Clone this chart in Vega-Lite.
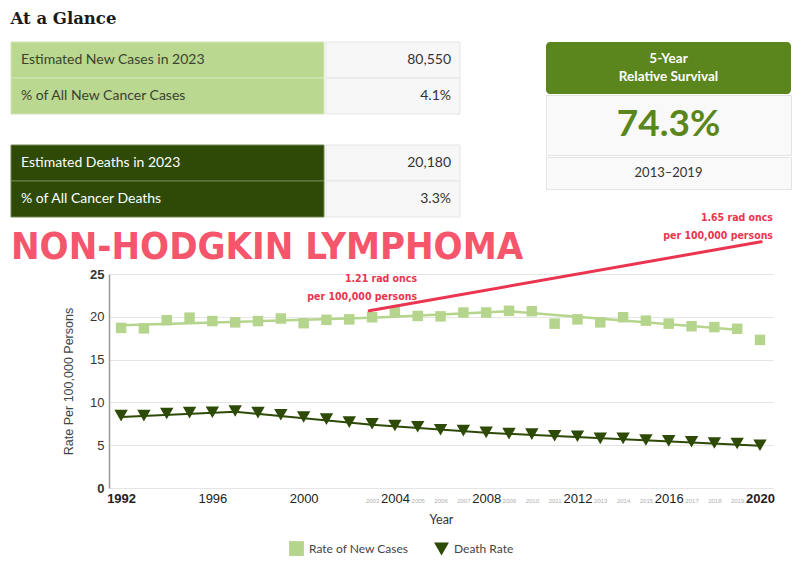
{
  "$schema": "https://vega.github.io/schema/vega-lite/v6.json",
  "background": "white",
  "padding": {"left": 10, "right": 10, "top": 11, "bottom": 4},
  "title": {"text": "At a Glance", "anchor": "start", "font": "DejaVu Serif", "fontSize": 16.5, "fontWeight": "bold", "color": "#1a1a1a", "offset": 14},
  "config": {"view": {"stroke": null}, "font": "Lato", "legend": {"layout": {"anchor": "middle"}}},
  "datasets": {
    "glance": [
      {"grp": "new", "label": "Estimated New Cases in 2023", "value": "80,550"},
      {"grp": "new", "label": "% of All New Cancer Cases", "value": "4.1%"},
      {"grp": "death", "label": "Estimated Deaths in 2023", "value": "20,180"},
      {"grp": "death", "label": "% of All Cancer Deaths", "value": "3.3%"}
    ],
    "survival": [{"header": "5-Year\nRelative Survival", "value": "74.3%", "period": "2013–2019"}],
    "rates": [
      {"year": 1992, "series": "Rate of New Cases", "rate": 18.7},
      {"year": 1993, "series": "Rate of New Cases", "rate": 18.65},
      {"year": 1994, "series": "Rate of New Cases", "rate": 19.6},
      {"year": 1995, "series": "Rate of New Cases", "rate": 19.9},
      {"year": 1996, "series": "Rate of New Cases", "rate": 19.5},
      {"year": 1997, "series": "Rate of New Cases", "rate": 19.35},
      {"year": 1998, "series": "Rate of New Cases", "rate": 19.5},
      {"year": 1999, "series": "Rate of New Cases", "rate": 19.8},
      {"year": 2000, "series": "Rate of New Cases", "rate": 19.25},
      {"year": 2001, "series": "Rate of New Cases", "rate": 19.65},
      {"year": 2002, "series": "Rate of New Cases", "rate": 19.7},
      {"year": 2003, "series": "Rate of New Cases", "rate": 19.95},
      {"year": 2004, "series": "Rate of New Cases", "rate": 20.6},
      {"year": 2005, "series": "Rate of New Cases", "rate": 20.1},
      {"year": 2006, "series": "Rate of New Cases", "rate": 20.05},
      {"year": 2007, "series": "Rate of New Cases", "rate": 20.5},
      {"year": 2008, "series": "Rate of New Cases", "rate": 20.5},
      {"year": 2009, "series": "Rate of New Cases", "rate": 20.7},
      {"year": 2010, "series": "Rate of New Cases", "rate": 20.65},
      {"year": 2011, "series": "Rate of New Cases", "rate": 19.2},
      {"year": 2012, "series": "Rate of New Cases", "rate": 19.7},
      {"year": 2013, "series": "Rate of New Cases", "rate": 19.35},
      {"year": 2014, "series": "Rate of New Cases", "rate": 19.95},
      {"year": 2015, "series": "Rate of New Cases", "rate": 19.55},
      {"year": 2016, "series": "Rate of New Cases", "rate": 19.2},
      {"year": 2017, "series": "Rate of New Cases", "rate": 18.9},
      {"year": 2018, "series": "Rate of New Cases", "rate": 18.8},
      {"year": 2019, "series": "Rate of New Cases", "rate": 18.6},
      {"year": 2020, "series": "Rate of New Cases", "rate": 17.3},
      {"year": 1992, "series": "Death Rate", "rate": 8.45},
      {"year": 1993, "series": "Death Rate", "rate": 8.45},
      {"year": 1994, "series": "Death Rate", "rate": 8.7},
      {"year": 1995, "series": "Death Rate", "rate": 8.8},
      {"year": 1996, "series": "Death Rate", "rate": 8.85},
      {"year": 1997, "series": "Death Rate", "rate": 9.0},
      {"year": 1998, "series": "Death Rate", "rate": 8.8},
      {"year": 1999, "series": "Death Rate", "rate": 8.55},
      {"year": 2000, "series": "Death Rate", "rate": 8.3},
      {"year": 2001, "series": "Death Rate", "rate": 8.05},
      {"year": 2002, "series": "Death Rate", "rate": 7.7},
      {"year": 2003, "series": "Death Rate", "rate": 7.5},
      {"year": 2004, "series": "Death Rate", "rate": 7.3},
      {"year": 2005, "series": "Death Rate", "rate": 7.15},
      {"year": 2006, "series": "Death Rate", "rate": 6.8},
      {"year": 2007, "series": "Death Rate", "rate": 6.7},
      {"year": 2008, "series": "Death Rate", "rate": 6.5},
      {"year": 2009, "series": "Death Rate", "rate": 6.35},
      {"year": 2010, "series": "Death Rate", "rate": 6.3},
      {"year": 2011, "series": "Death Rate", "rate": 6.1},
      {"year": 2012, "series": "Death Rate", "rate": 6.05},
      {"year": 2013, "series": "Death Rate", "rate": 5.8},
      {"year": 2014, "series": "Death Rate", "rate": 5.8},
      {"year": 2015, "series": "Death Rate", "rate": 5.6},
      {"year": 2016, "series": "Death Rate", "rate": 5.5},
      {"year": 2017, "series": "Death Rate", "rate": 5.4},
      {"year": 2018, "series": "Death Rate", "rate": 5.25},
      {"year": 2019, "series": "Death Rate", "rate": 5.2},
      {"year": 2020, "series": "Death Rate", "rate": 5.0}
    ],
    "trend": [
      {"year": 1992, "series": "Rate of New Cases", "rate": 19.0},
      {"year": 2003, "series": "Rate of New Cases", "rate": 19.9},
      {"year": 2009, "series": "Rate of New Cases", "rate": 20.65},
      {"year": 2019, "series": "Rate of New Cases", "rate": 18.5},
      {"year": 1992, "series": "Death Rate", "rate": 8.3},
      {"year": 1997, "series": "Death Rate", "rate": 8.9},
      {"year": 2003, "series": "Death Rate", "rate": 7.4},
      {"year": 2008, "series": "Death Rate", "rate": 6.45},
      {"year": 2020, "series": "Death Rate", "rate": 4.95}
    ],
    "annotline": [{"year": 2002.87, "rate": 20.7, "year2": 2020.05, "rate2": 28.77}],
    "annottext": [
      {"year": 2004.97, "rate": 24.45, "label": "1.21 rad oncs\nper 100,000 persons"},
      {"year": 2020.57, "rate": 31.6, "label": "1.65 rad oncs\nper 100,000 persons"}
    ]
  },
  "columns": 1,
  "spacing": -6,
  "concat": [
    {
      "spacing": 84,
      "hconcat": [
        {
          "spacing": 29,
          "vconcat": [
            {
              "spacing": 0,
              "hconcat": [
                {
                  "width": 313, "height": 72,
                  "data": {"name": "glance"},
                  "transform": [{"filter": "datum.grp == 'new'"}],
                  "layer": [
                    {"mark": {"type": "rect", "color": "#bad88f", "stroke": "#d2e6b6", "strokeWidth": 1},
                     "encoding": {"y": {"field": "label", "type": "nominal", "sort": null, "axis": null, "scale": {"paddingInner": 0, "paddingOuter": 0}}}},
                    {"mark": {"type": "text", "align": "left", "dx": 10, "font": "Lato", "fontSize": 14, "color": "#3b4232"},
                     "encoding": {"y": {"field": "label", "type": "nominal", "sort": null, "axis": null},
                                  "x": {"datum": 0, "type": "quantitative", "scale": {"domain": [0, 1]}, "axis": null},
                                  "text": {"field": "label"}}}
                  ]
                },
                {
                  "width": 134, "height": 72,
                  "data": {"name": "glance"},
                  "transform": [{"filter": "datum.grp == 'new'"}],
                  "layer": [
                    {"mark": {"type": "rect", "color": "#f6f7f6", "stroke": "#e4e5e4", "strokeWidth": 1},
                     "encoding": {"y": {"field": "label", "type": "nominal", "sort": null, "axis": null, "scale": {"paddingInner": 0, "paddingOuter": 0}}}},
                    {"mark": {"type": "text", "align": "right", "dx": -9, "font": "Lato", "fontSize": 14, "color": "#333333"},
                     "encoding": {"y": {"field": "label", "type": "nominal", "sort": null, "axis": null},
                                  "x": {"datum": 1, "type": "quantitative", "scale": {"domain": [0, 1]}, "axis": null},
                                  "text": {"field": "value"}}}
                  ]
                }
              ]
            },
            {
              "spacing": 0,
              "hconcat": [
                {
                  "width": 313, "height": 72,
                  "data": {"name": "glance"},
                  "transform": [{"filter": "datum.grp == 'death'"}],
                  "layer": [
                    {"mark": {"type": "rect", "color": "#2e4a06", "stroke": "#6f8350", "strokeWidth": 1},
                     "encoding": {"y": {"field": "label", "type": "nominal", "sort": null, "axis": null, "scale": {"paddingInner": 0, "paddingOuter": 0}}}},
                    {"mark": {"type": "text", "align": "left", "dx": 10, "font": "Lato", "fontSize": 14, "color": "#ffffff"},
                     "encoding": {"y": {"field": "label", "type": "nominal", "sort": null, "axis": null},
                                  "x": {"datum": 0, "type": "quantitative", "scale": {"domain": [0, 1]}, "axis": null},
                                  "text": {"field": "label"}}}
                  ]
                },
                {
                  "width": 134, "height": 72,
                  "data": {"name": "glance"},
                  "transform": [{"filter": "datum.grp == 'death'"}],
                  "layer": [
                    {"mark": {"type": "rect", "color": "#f6f7f6", "stroke": "#e4e5e4", "strokeWidth": 1},
                     "encoding": {"y": {"field": "label", "type": "nominal", "sort": null, "axis": null, "scale": {"paddingInner": 0, "paddingOuter": 0}}}},
                    {"mark": {"type": "text", "align": "right", "dx": -9, "font": "Lato", "fontSize": 14, "color": "#333333"},
                     "encoding": {"y": {"field": "label", "type": "nominal", "sort": null, "axis": null},
                                  "x": {"datum": 1, "type": "quantitative", "scale": {"domain": [0, 1]}, "axis": null},
                                  "text": {"field": "value"}}}
                  ]
                }
              ]
            }
          ]
        },
        {
          "spacing": 0,
          "vconcat": [
            {
              "width": 245, "height": 52,
              "view": {"fill": "#5a861d", "stroke": null, "cornerRadius": 4},
              "data": {"name": "survival"},
              "mark": {"type": "text", "color": "#ffffff", "font": "Lato", "fontWeight": "bold", "fontSize": 13.5, "lineBreak": "\n", "lineHeight": 18, "dy": -9},
              "encoding": {"text": {"field": "header"}}
            },
            {
              "width": 245, "height": 60,
              "view": {"fill": "#f8f9f8", "stroke": "#e3e4e3"},
              "data": {"name": "survival"},
              "mark": {"type": "text", "color": "#5a861d", "font": "Lato", "fontWeight": "bold", "fontSize": 37},
              "encoding": {"text": {"field": "value"}}
            },
            {
              "width": 245, "height": 32,
              "view": {"fill": "#f8f9f8", "stroke": "#e3e4e3"},
              "data": {"name": "survival"},
              "mark": {"type": "text", "color": "#333333", "font": "Lato", "fontSize": 13},
              "encoding": {"text": {"field": "period"}}
            }
          ]
        }
      ]
    },
    {
      "width": 762, "height": 214,
      "title": {"text": "NON-HODGKIN LYMPHOMA", "anchor": "start", "frame": "group", "font": "DejaVu Sans Condensed, sans-serif", "fontSize": 38, "fontWeight": "bold", "color": "#f5566b", "offset": -54},
      "encoding": {
        "x": {"field": "year", "type": "quantitative", "title": "Year",
              "scale": {"domain": [1991.47, 2020.57], "range": [98, 762], "nice": false, "zero": false},
              "axis": {"values": [1992, 1996, 2000, 2003, 2004, 2005, 2006, 2007, 2008, 2009, 2010, 2011, 2012, 2013, 2014, 2015, 2016, 2017, 2018, 2019, 2020],
                       "format": "d", "ticks": false, "grid": false, "domain": false,
                       "labelFont": "Liberation Sans",
                       "labelFontSize": {"condition": {"test": "datum.value % 4 == 0", "value": 13}, "value": 6},
                       "labelColor": {"condition": {"test": "datum.value % 4 == 0", "value": "#222222"}, "value": "#b0b0b0"},
                       "labelFontWeight": {"condition": {"test": "datum.value == 1992 || datum.value == 2020", "value": "bold"}, "value": "normal"},
                       "labelBaseline": "alphabetic", "labelPadding": 14, "labelOverlap": false, "labelFlush": false,
                       "titleFont": "Lato", "titleFontSize": 12.5, "titleFontWeight": "normal", "titleColor": "#333333", "titlePadding": 8}},
        "y": {"field": "rate", "type": "quantitative", "title": "Rate Per 100,000 Persons",
              "scale": {"domain": [0, 25], "nice": false},
              "axis": {"values": [0, 5, 10, 15, 20, 25], "ticks": false, "grid": true, "gridColor": "#e6e6e6", "offset": -98,
                       "domain": true, "domainColor": "#999999", "domainWidth": 1.5,
                       "labelFont": "Liberation Sans", "labelFontSize": 13, "labelColor": "#333333",
                       "labelFontWeight": {"condition": {"test": "datum.value == 0 || datum.value == 25", "value": "bold"}, "value": "normal"},
                       "labelPadding": 5,
                       "titleFont": "Liberation Sans", "titleFontSize": 12.5, "titleFontWeight": "normal", "titleColor": "#444444", "titlePadding": 14}}
      },
      "layer": [
        {"data": {"name": "trend"}, "transform": [{"filter": "datum.series == 'Rate of New Cases'"}],
         "mark": {"type": "line", "color": "#b5d58d", "strokeWidth": 2.5}},
        {"data": {"name": "trend"}, "transform": [{"filter": "datum.series == 'Death Rate'"}],
         "mark": {"type": "line", "color": "#2d4a07", "strokeWidth": 2}},
        {"data": {"name": "rates"},
         "mark": {"type": "point", "filled": true, "opacity": 1},
         "encoding": {
           "size": {"condition": {"test": "datum.series == 'Death Rate'", "value": 180}, "value": 110},
           "color": {"field": "series", "type": "nominal",
                     "scale": {"domain": ["Rate of New Cases", "Death Rate"], "range": ["#b5d58d", "#2d4a07"]},
                     "legend": {"orient": "bottom", "direction": "horizontal", "title": null, "offset": 14,
                                "labelFont": "Lato", "labelFontSize": 12, "labelColor": "#444444", "symbolSize": 220, "columnPadding": 24}},
           "shape": {"field": "series", "type": "nominal",
                     "scale": {"domain": ["Rate of New Cases", "Death Rate"], "range": ["square", "triangle-down"]},
                     "legend": {"orient": "bottom", "direction": "horizontal", "title": null, "offset": 14,
                                "labelFont": "Lato", "labelFontSize": 12, "labelColor": "#444444", "symbolSize": 220, "columnPadding": 24}}
         }},
        {"data": {"name": "annotline"},
         "mark": {"type": "rule", "color": "#ea3450", "strokeWidth": 3, "strokeCap": "round"},
         "encoding": {"x2": {"field": "year2"}, "y2": {"field": "rate2"}}},
        {"data": {"name": "annottext"},
         "mark": {"type": "text", "align": "right", "baseline": "middle", "lineBreak": "\n", "lineHeight": 18,
                  "font": "DejaVu Sans Condensed, sans-serif", "fontSize": 10.5, "fontWeight": "bold", "color": "#ea3450"},
         "encoding": {"text": {"field": "label"}}}
      ]
    }
  ]
}
